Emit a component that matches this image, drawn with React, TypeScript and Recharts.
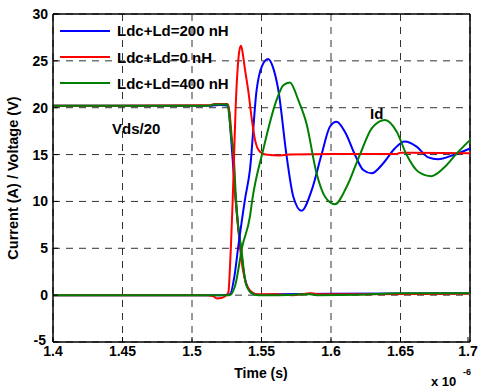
import { CartesianGrid, Line, LineChart, ReferenceLine, XAxis, YAxis } from "recharts";

// time in units of 1e-6 s, values in A (Id) or V/20 (Vds)
const xTicks = [1.4, 1.45, 1.5, 1.55, 1.6, 1.65, 1.7];
const yTicks = [-5, 0, 5, 10, 15, 20, 25, 30];

const blueVds: [number, number][] = [
  [1.4, 20.2], [1.514, 20.2], [1.52, 20.3], [1.5262, 20.2], [1.5275, 18], [1.529, 15],
  [1.5315, 10], [1.535, 5], [1.5385, 1.5], [1.5425, 0.3], [1.548, 0.05], [1.56, 0.1],
  [1.6, 0.15], [1.7, 0.2],
];
const blueId: [number, number][] = [
  [1.4, 0], [1.52, 0], [1.5273, 0.1], [1.5305, 2], [1.5333, 5.2], [1.5381, 10.2],
  [1.5417, 13.4], [1.5465, 21.9], [1.5505, 24.5], [1.5548, 25.2], [1.5585, 24.2],
  [1.5621, 21.9], [1.5681, 14.8], [1.5729, 10.5], [1.5788, 9.0], [1.5861, 11.2],
  [1.5932, 15], [1.5993, 18.0], [1.604, 18.5], [1.6101, 17.4], [1.6172, 15],
  [1.6232, 13.35], [1.6292, 13.0], [1.6376, 14.07], [1.646, 15.67], [1.6531, 16.4],
  [1.6616, 15.85], [1.67, 14.7], [1.677, 14.5], [1.688, 14.95], [1.7, 15.65],
];

const redVds: [number, number][] = [
  [1.4, 20.2], [1.513, 20.25], [1.516, 20.4], [1.5255, 20.4], [1.527, 19.5], [1.5285, 17],
  [1.5295, 15.5], [1.531, 11], [1.533, 7.5], [1.5345, 5.2], [1.5365, 2.8], [1.539, 1.2],
  [1.5417, 0.5], [1.546, 0.1], [1.56, 0.1], [1.572, 0], [1.586, 0.2], [1.59, 0.1], [1.7, 0.15],
];
const redId: [number, number][] = [
  [1.4, 0], [1.51, 0], [1.515, -0.1], [1.518, -0.35], [1.521, -0.3], [1.5245, -0.05],
  [1.5262, 0.3], [1.527, 2], [1.528, 5.2], [1.5293, 10.2], [1.5304, 15.5], [1.5314, 20],
  [1.5329, 24.3], [1.5342, 26.2], [1.5353, 26.6], [1.5368, 25.5], [1.538, 24.2],
  [1.5405, 21.8], [1.543, 18.8], [1.5453, 16.6], [1.5489, 15.3], [1.553, 15.0],
  [1.5633, 14.9], [1.57, 15.0], [1.6, 15.05], [1.647, 15.05], [1.65, 15.2], [1.7, 15.15],
];

const greenVds: [number, number][] = [
  [1.4, 20.2], [1.512, 20.2], [1.516, 20.35], [1.5255, 20.35], [1.5265, 19.5], [1.5285, 16.5],
  [1.5297, 15.5], [1.5317, 10.2], [1.5335, 7], [1.5353, 5.2], [1.5386, 1.3], [1.543, 0.2],
  [1.548, 0], [1.56, 0], [1.585, 0.1], [1.59, 0], [1.62, 0.05], [1.65, 0.2], [1.7, 0.2],
];
const greenId: [number, number][] = [
  [1.4, 0], [1.52, 0], [1.527, 0], [1.531, 1], [1.5362, 5.2], [1.5417, 8.4],
  [1.5434, 10.2], [1.5512, 15.5], [1.5608, 20.8], [1.5657, 22.4], [1.5704, 22.7],
  [1.5765, 20.8], [1.5824, 18.3], [1.5896, 13.0], [1.5957, 10.5], [1.6028, 9.7],
  [1.6113, 11.57], [1.6208, 15], [1.6293, 17.8], [1.6388, 18.7], [1.6473, 17.44],
  [1.6543, 15], [1.6628, 13.17], [1.6723, 12.7], [1.682, 13.7], [1.6903, 15.1], [1.7, 16.55],
];

const series = [
  { name: "Ldc+Ld=200 nH", color: "#0000ff", vds: blueVds, id: blueId },
  { name: "Ldc+Ld=0 nH", color: "#ff0000", vds: redVds, id: redId },
  { name: "Ldc+Ld=400 nH", color: "#008000", vds: greenVds, id: greenId },
];

const toRows = (pts: [number, number][]) => pts.map(([t, v]) => ({ t, v }));

const FONT = "'Liberation Sans', Arial, sans-serif";

function XTick({ x, y, payload }: any) {
  return (
    <g>
      <line x1={x} x2={x} y1={y} y2={y - 5} stroke="#000" />
      <text x={x} y={y + 14} textAnchor="middle" fontFamily={FONT} fontWeight="bold" fontSize={14} fill="#000">
        {String(Number(payload.value.toFixed(2)))}
      </text>
    </g>
  );
}

function YTick({ x, y, payload }: any) {
  const low = payload.value === -5;
  return (
    <g>
      <line x1={x} x2={x + 5} y1={y} y2={y} stroke="#000" />
      <text x={x - (low ? 7 : 5)} y={y + (low ? 3 : 5)} textAnchor="end" fontFamily={FONT} fontWeight="bold" fontSize={14} fill="#000">
        {payload.value}
      </text>
    </g>
  );
}

export default function App() {
  return (
    <div style={{ position: "relative", width: 478, height: 390, background: "#fff" }}>
      <style>{"body{margin:0}"}</style>
      <LineChart width={478} height={390} margin={{ top: 14, right: 8, bottom: 0, left: 0 }}>
        <CartesianGrid stroke="#333" strokeDasharray="7 6" />
        <XAxis
          dataKey="t"
          type="number"
          domain={[1.4, 1.7]}
          ticks={xTicks}
          height={48}
          tickSize={0}
          tickMargin={0}
          tickLine={false}
          axisLine={{ stroke: "#000", strokeWidth: 1.5 }}
          tick={XTick}
          allowDuplicatedCategory={false}
        />
        <YAxis
          type="number"
          domain={[-5, 30]}
          ticks={yTicks}
          width={53}
          tickSize={0}
          tickMargin={0}
          tickLine={false}
          axisLine={{ stroke: "#000", strokeWidth: 1.5 }}
          tick={YTick}
        />
        <ReferenceLine x={1.7} stroke="#000" strokeWidth={1.5} />
        <ReferenceLine y={30} stroke="#000" strokeWidth={1.5} />
        {series.map((s) => (
          <Line
            key={s.name + "-vds"}
            data={toRows(s.vds)}
            dataKey="v"
            type="monotone"
            stroke={s.color}
            strokeWidth={2}
            dot={false}
            activeDot={false}
            isAnimationActive={false}
          />
        ))}
        {series.map((s) => (
          <Line
            key={s.name + "-id"}
            data={toRows(s.id)}
            dataKey="v"
            type="monotone"
            stroke={s.color}
            strokeWidth={2}
            dot={false}
            activeDot={false}
            isAnimationActive={false}
          />
        ))}
      </LineChart>
      <svg
        width={478}
        height={390}
        style={{ position: "absolute", left: 0, top: 0, pointerEvents: "none" }}
        fontFamily={FONT}
        fontWeight="bold"
      >
        {series.map((s, i) => (
          <g key={s.name}>
            <line x1={60} x2={110} y1={31 + i * 26} y2={31 + i * 26} stroke={s.color} strokeWidth={2} />
            <text x={117} y={36 + i * 26.5} fontSize={15} fill="#000">
              {s.name}
            </text>
          </g>
        ))}
        <text x={112} y={134} fontSize={15} fill="#000">Vds/20</text>
        <text x={370} y={119} fontSize={15} fill="#000">Id</text>
        <text transform="translate(18,178) rotate(-90)" textAnchor="middle" fontSize={14.5} fill="#000">
          Current (A) / Voltage (V)
        </text>
        <text x={261} y={378} textAnchor="middle" fontSize={14} fill="#000">Time (s)</text>
        <text x={431} y={386} fontSize={13} fill="#000">x 10</text>
        <text x={463} y={375} fontSize={9} fill="#000">-6</text>
      </svg>
    </div>
  );
}
